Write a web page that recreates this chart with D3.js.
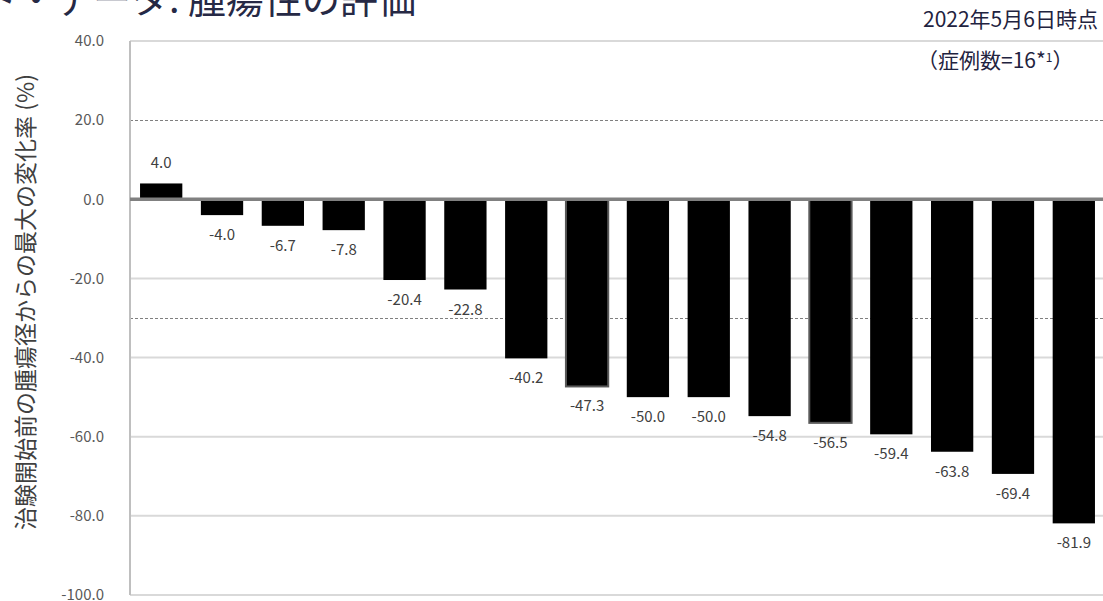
<!DOCTYPE html>
<meta charset="utf-8">

<script src="https://d3js.org/d3.v7.min.js"></script>

<style type="text/css">

body {
  margin: 0;
  background: #fff;
}

svg text {
  font-family: "Noto Sans CJK JP", "Noto Sans", sans-serif;
}

.axis text {
  font-size: 15px;
  fill: #595959;
}

.axis path, .axis line {
  display: none;
}

.grid line {
  stroke: #d9d9d9;
  stroke-width: 2px;
}

.refLine {
  stroke: #7f7f7f;
  stroke-width: 1px;
  stroke-dasharray: 3px 2px;
}

.barLabel {
  font-size: 15px;
  fill: #404040;
}

</style>

<body>
</body>

<script>

// one bar per case, sorted by best change
var cases = ['1', '2', '3', '4', '5', '6', '7', '8', '9', '10', '11', '12', '13', '14', '15', '16'];
var changeValues = [4.0, -4.0, -6.7, -7.8, -20.4, -22.8, -40.2, -47.3, -50.0, -50.0, -54.8, -56.5, -59.4, -63.8, -69.4, -81.9];
// cases drawn with a grey outline
var outlinedCases = ['8', '12'];

var yTicks = [40, 20, 0, -20, -40, -60, -80, -100];
var refLines = [20, -30];

var titleText = 'コホート・データ: 腫瘍性の評価';
var titlePrefix = 'コホート・';
var dateNote = '2022年5月6日時点';
var yTitle = '治験開始前の腫瘍径からの最大の変化率 (%)';

var data = cases.map(function(c, i) { return {id: c, value: changeValues[i]}; });

var width = 1103,
    height = 601;

var svg = d3.select('body').append('svg')
  .attr('width', width)
  .attr('height', height);

// scales
var xScale = d3.scaleBand()
  .domain(cases)
  .range([130, 1105])
  .paddingInner(0.305)
  .paddingOuter(0.165);

var yScale = d3.scaleLinear()
  .domain([-100, 40])
  .range([595, 41]);

// gridlines (skip 0 and 20, drawn as baseline / dashed line)
svg.append('g')
  .attr('class', 'grid')
  .selectAll('line')
  .data(yTicks.filter(function(d) { return d != 0 && d != 20; }))
  .enter().append('line')
  .attr('x1', xScale.range()[0])
  .attr('x2', xScale.range()[1])
  .attr('y1', function(d) { return yScale(d); })
  .attr('y2', function(d) { return yScale(d); });

// dashed reference lines
svg.selectAll('.refLine')
  .data(refLines)
  .enter().append('line')
  .attr('class', 'refLine')
  .attr('x1', xScale.range()[0])
  .attr('x2', xScale.range()[1])
  .attr('y1', function(d) { return Math.round(yScale(d)) + 0.5; })
  .attr('y2', function(d) { return Math.round(yScale(d)) + 0.5; });

// y axis
var yAxis = d3.axisLeft(yScale)
  .tickValues(yTicks)
  .tickFormat(function(d) { return d.toFixed(1); })
  .tickSize(0)
  .tickPadding(26);

svg.append('g')
  .attr('class', 'y axis')
  .attr('transform', 'translate(130,0)')
  .call(yAxis);

svg.append('line')
  .attr('x1', 130)
  .attr('x2', 130)
  .attr('y1', yScale(40))
  .attr('y2', yScale(-100))
  .style('stroke', '#bfbfbf')
  .style('stroke-width', 2);

// bars
svg.selectAll('.bar')
  .data(data)
  .enter().append('rect')
  .attr('class', 'bar')
  .attr('x', function(d) { return xScale(d.id); })
  .attr('width', xScale.bandwidth())
  .attr('y', function(d) { return yScale(Math.max(0, d.value)); })
  .attr('height', function(d) { return Math.abs(yScale(d.value) - yScale(0)); })
  .style('fill', '#000')
  .style('stroke', function(d) { return outlinedCases.indexOf(d.id) > -1 ? '#595959' : 'none'; })
  .style('stroke-width', 2);

// zero baseline
svg.append('line')
  .attr('x1', xScale.range()[0])
  .attr('x2', xScale.range()[1])
  .attr('y1', yScale(0))
  .attr('y2', yScale(0))
  .style('stroke', '#808080')
  .style('stroke-width', 3.5);

// value labels
svg.selectAll('.barLabel')
  .data(data)
  .enter().append('text')
  .attr('class', 'barLabel')
  .attr('text-anchor', 'middle')
  .attr('x', function(d) { return xScale(d.id) + xScale.bandwidth() / 2; })
  .attr('y', function(d) { return d.value >= 0 ? yScale(d.value) - 15 : yScale(d.value) + 25; })
  .text(function(d) { return d.value.toFixed(1); });

// y title
svg.append('text')
  .attr('transform', 'translate(34,302) rotate(-90)')
  .attr('text-anchor', 'middle')
  .style('font-size', '23px')
  .style('fill', '#404040')
  .text(yTitle);

// page title, clipped at top
var title = svg.append('text')
  .attr('y', 13)
  .style('font-size', '38px')
  .style('fill', '#262945')
  .text(titleText);

var tmp = svg.append('text').style('font-size', '38px').text(titlePrefix);
var prefixWidth = tmp.node().getComputedTextLength();
tmp.remove();
title.attr('x', 55 - prefixWidth);

// note at top right
svg.append('text')
  .attr('x', 923)
  .attr('y', 27)
  .style('font-size', '21px')
  .style('fill', '#1f2340')
  .text(dateNote);

var caseNote = svg.append('text')
  .attr('x', 917)
  .attr('y', 68)
  .style('font-size', '21px')
  .style('fill', '#1f2340');

caseNote.append('tspan').text('（症例数=' + cases.length + '*');
caseNote.append('tspan').attr('dy', -6).style('font-size', '12px').text('1');
caseNote.append('tspan').attr('dy', 6).text('）');

</script>
